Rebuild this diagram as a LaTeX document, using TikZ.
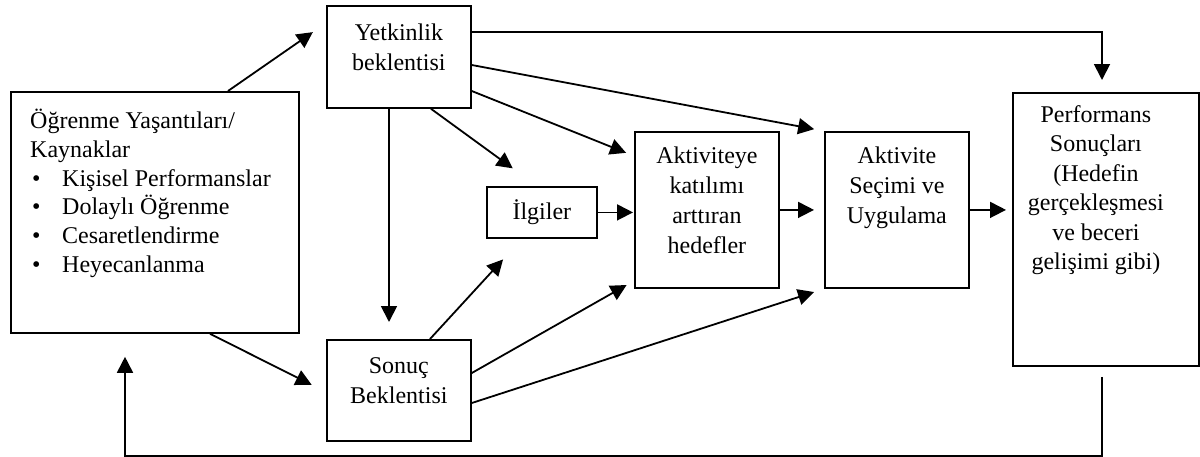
\documentclass[tikz,border=0pt]{standalone}
\usepackage{fontspec}
\setmainfont{Liberation Serif}
\usetikzlibrary{arrows.meta,calc}
\begin{document}
\begin{tikzpicture}[x=1pt,y=-1pt,
  box/.style={draw,line width=1.8pt,inner sep=0pt,anchor=north west},
  txt/.style={inner sep=0pt,anchor=north,align=center,font=\fontsize{24}{30}\selectfont},
  conn/.style={line width=1.8pt,-{Triangle[length=16pt,width=16pt]}}
]
\useasboundingbox (0,0) rectangle (1200,456);
% boxes
\node[box,minimum width=288pt,minimum height=241pt] (src) at (10,91) {};
\node[box,minimum width=144pt,minimum height=102pt] (yet) at (326,5) {};
\node[box,minimum width=144pt,minimum height=101pt] (son) at (326,339) {};
\node[box,minimum width=110pt,minimum height=51pt,font=\fontsize{24}{30}\selectfont] (ilg) at (486,186) {İlgiler};
\node[box,minimum width=144pt,minimum height=156pt] (akt) at (634,131) {};
\node[box,minimum width=144pt,minimum height=156pt] (ase) at (824,131) {};
\node[box,minimum width=186pt,minimum height=273pt] (perf) at (1012,92) {};
% texts
\node[inner sep=0pt,anchor=north west,align=left,font=\fontsize{24}{28.7}\selectfont] (srct) at ($(src.north west)+(20,18)$)
  {Öğrenme Yaşantıları/\\Kaynaklar\\
   \makebox[32pt][l]{\hspace{2pt}\textbullet}Kişisel Performanslar\\
   \makebox[32pt][l]{\hspace{2pt}\textbullet}Dolaylı Öğrenme\\
   \makebox[32pt][l]{\hspace{2pt}\textbullet}Cesaretlendirme\\
   \makebox[32pt][l]{\hspace{2pt}\textbullet}Heyecanlanma};
\node[txt] (yett) at ($(yet.north)+(0,19)$) {Yetkinlik\\beklentisi};
\node[txt] (sont) at ($(son.north)+(0,18)$) {Sonuç\\Beklentisi};
\node[txt] (aktt) at ($(akt.north)+(0,16)$) {Aktiviteye\\katılımı\\arttıran\\hedefler};
\node[txt] (aset) at ($(ase.north)+(0,16)$) {Aktivite\\Seçimi ve\\Uygulama};
\node[txt,font=\fontsize{24}{29.5}\selectfont] (perft) at ($(perf.north)+(-10,13)$) {Performans\\Sonuçları\\(Hedefin\\gerçekleşmesi\\ve beceri\\gelişimi gibi)};
% connectors
\draw[conn,shorten >=16pt] ($(src.north west)+(218,0)$) -- ($(yet.north west)+(0,18)$);
\draw[conn,shorten >=16pt] ($(src.south west)+(200,0)$) -- ($(son.north west)+(0,53)$);
\draw[conn,shorten >=17pt] ($(yet.south west)+(63,0)$) -- ($(son.north west)+(63,0)$);
\draw[conn,shorten >=12pt] ($(yet.north east)+(0,27)$) -| ($(perf.north west)+(90,0)$);
\draw[conn,shorten >=10pt] ($(yet.north east)+(0,60)$) -- (ase.north west);
\draw[conn,shorten >=8.5pt] ($(yet.north east)+(0,86)$) -- ($(akt.north west)+(0,25)$);
\draw[conn,shorten >=30pt] ($(yet.south west)+(105,0)$) -- ($(ilg.north west)+(51,0)$);
\draw[conn,shorten >=1pt] (ilg.east) -- (akt.west |- ilg.east);
\draw[conn,shorten >=10pt] (akt.east) -- (ase.west);
\draw[conn,shorten >=6pt] (ase.east) -- (perf.west |- ase.east);
\draw[conn,shorten >=28pt] ($(son.north west)+(104,0)$) -- ($(ilg.south west)+(36,0)$);
\draw[conn,shorten >=8.5pt] ($(son.north east)+(0,34)$) -- ($(akt.south west)+(0,-8)$);
\draw[conn,shorten >=10.5pt] ($(son.north east)+(0,64)$) -- (ase.south west);
\draw[conn,shorten <=10pt,shorten >=23pt] ($(perf.south west)+(90,0)$) -- ++(0,89) -| ($(src.south west)+(115,0)$);
\end{tikzpicture}
\end{document}
